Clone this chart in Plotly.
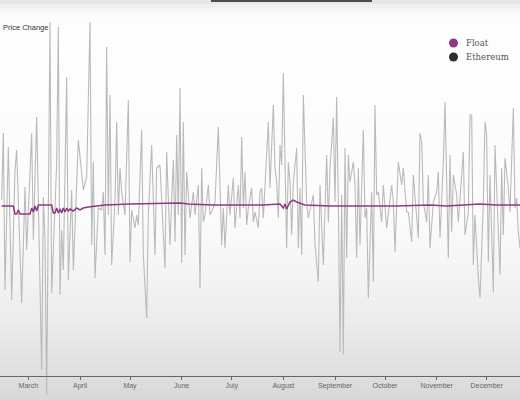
import plotly.graph_objects as go
from datetime import date, timedelta

W, H = 520, 400
YEAR_START = date(2021, 1, 1)

# Ethereum daily price change (day number in 2021, Jan 1 = 0)
eth_day = [43, 44, 45, 47, 49, 51, 52, 54, 55, 57, 58, 61, 62, 64, 66, 67, 68, 69, 70, 72,
           73, 74, 76, 77, 78, 79, 80, 82, 83, 85, 86, 89, 91, 92, 94, 96, 97, 98, 99, 101,
           103, 104, 105, 106, 107, 108, 109, 111, 112, 113, 114, 115, 117, 119, 120, 121, 123, 124, 125, 127,
           128, 130, 131, 133, 135, 136, 138, 141, 142, 144, 145, 146, 147, 148, 149, 150, 151, 152, 153, 154,
           156, 158, 159, 161, 162, 163, 164, 165, 167, 168, 170, 171, 173, 175, 176, 177, 179, 180, 182, 183,
           185, 186, 187, 188, 189, 190, 191, 193, 194, 195, 197, 198, 199, 200, 203, 204, 206, 207, 208, 209,
           210, 211, 212, 214, 215, 216, 217, 218, 220, 221, 222, 223, 224, 226, 227, 230, 231, 233, 234, 235,
           236, 238, 239, 240, 242, 243, 244, 245, 246, 247, 248, 249, 250, 251, 252, 254, 255, 256, 257, 258,
           260, 261, 262, 263, 265, 266, 267, 268, 269, 271, 272, 274, 277, 278, 279, 280, 281, 283, 284, 286,
           287, 289, 290, 293, 294, 295, 296, 298, 299, 300, 301, 302, 304, 305, 306, 308, 309, 311, 312, 313,
           314, 316, 317, 319, 320, 321, 323, 324, 325, 326, 327, 329, 330, 332, 333, 334, 335, 336, 338, 339,
           341, 342, 343, 344, 345, 347, 348, 350, 351, 352, 353, 354]
eth_change = [0.5, 7.2, -8.5, 5.8, -9.5, 3.5, 5.5, -4.5, -9.8, 1.8, -4.5, 7.2, -3.5, 8.8, -8.5, -16.5, 0.8, -3.5, -19.0, 18.3,
              -8.8, -4.5, 4.2, 17.8, -9.0, -2.5, -6.5, 12.8, -7.5, 1.5, -6.5, 6.5, 3.5, 1.5, 2.8, 18.3, -4.0, 4.3, -7.3, -0.3,
              -0.5, 1.3, -5.0, 15.8, -1.0, 11.0, -6.0, 0.5, 8.3, -1.0, 3.7, 1.3, -1.0, 10.5, -5.7, -0.5, -2.3, -1.0, -2.0, 7.5,
              -5.0, -11.3, -1.0, 6.0, -5.0, 3.7, 4.0, -6.3, 5.3, -4.0, 0.5, 4.5, -3.7, 7.0, -1.0, 11.7, -5.8, 8.3, -5.0, 3.3,
              -1.3, 1.3, -1.0, 2.0, -8.3, 3.7, -1.7, -1.0, 2.0, -1.0, -0.3, 0.3, 7.8, -4.0, -0.3, -4.3, 2.0, -1.0, 2.7, -2.3,
              2.0, -1.3, 6.8, -0.3, 3.3, -2.0, -0.3, 1.7, -1.7, -0.7, -2.3, 1.3, 1.7, -1.3, 8.3, 1.7, 10.0, 3.7, 2.3, -1.3,
              6.0, 4.0, 13.2, -4.3, 4.3, 2.3, -3.0, 2.3, 5.7, -4.3, 1.7, -5.0, 11.0, 0.3, -1.3, 1.0, -4.0, -7.7, 2.0, -2.7,
              -6.0, 5.0, -1.7, 3.7, 8.7, 0.3, 10.8, 0.3, -14.7, 1.0, -15.0, 5.7, -5.3, 5.0, 2.3, 4.3, 2.0, -5.3, 3.7, -4.0,
              7.5, -1.3, -0.3, -9.3, 1.3, -7.7, 10.0, 1.0, 1.3, -1.7, 2.0, -2.3, 2.0, 0.3, -4.7, 0.0, 4.3, 2.0, 3.7, -0.7,
              -0.7, -3.7, 3.0, -3.3, 7.2, 6.3, 0.3, -1.7, 3.0, -4.3, -2.3, 0.3, 1.3, 3.3, -3.3, 4.3, 10.3, -5.3, 5.0, -2.7,
              3.0, 1.0, -1.7, 3.0, 5.3, -3.0, -0.7, 9.0, 9.0, -6.0, -1.0, -7.3, -9.3, 0.3, 8.3, 7.0, -5.7, 3.0, -8.7, 6.0,
              -2.7, -7.0, 3.7, -3.0, 4.7, 1.7, -0.7, 9.7, -0.3, 0.7, -2.7, -4.3]

# Float daily price change
float_day = [43, 50, 51, 52, 53, 54, 60, 61, 62, 63, 64, 65, 73, 74, 75, 76, 77, 78, 79, 80,
             81, 82, 83, 84, 86, 88, 90, 92, 95, 105, 120, 140, 150, 155, 170, 200, 210, 212, 213, 214,
             216, 218, 220, 225, 240, 260, 280, 300, 310, 320, 330, 340, 354]
float_change = [-0.1, -0.1, -0.9, -0.9, -0.5, -0.9, -0.9, -0.3, -0.7, -0.1, -0.6, 0.0, 0.0, -0.8, -0.8, -0.3, -0.8, -0.4, -0.8, -0.3,
                -0.7, -0.3, -0.6, -0.4, -0.6, -0.3, -0.5, -0.3, -0.2, 0.0, 0.1, 0.2, 0.2, 0.1, 0.0, 0.0, 0.1, -0.3, 0.1, -0.4,
                0.3, 0.5, 0.3, 0.0, -0.1, -0.1, -0.1, 0.0, -0.1, 0.0, 0.1, 0.0, 0.0]

month_numbers = [3, 4, 5, 6, 7, 8, 9, 10, 11, 12]
month_labels = ["March", "April", "May", "June", "July", "August",
                "September", "October", "November", "December"]
legend_names = ["Float", "Ethereum"]
legend_colors = ["#8d3a83", "#2e2e2e"]
y_title = "Price Change"


def to_dates(days):
    return [YEAR_START + timedelta(days=d) for d in days]


def px_x(p):
    return p / W


def px_y(p):
    return (H - p) / H


fig = go.Figure()
fig.add_trace(go.Scatter(x=to_dates(eth_day), y=eth_change, mode="lines",
                         line=dict(color="#bababa", width=1.1), name="Ethereum",
                         showlegend=False, hoverinfo="skip"))
fig.add_trace(go.Scatter(x=to_dates(float_day), y=float_change, mode="lines",
                         line=dict(color="#8d3a83", width=1.5), name="Float",
                         showlegend=False, hoverinfo="skip"))

# background gradient (screenshot look)
stops = [(0, 226), (6, 240), (14, 251), (24, 253), (210, 252), (260, 246),
         (320, 236), (360, 226), (400, 216)]


def shade(p):
    for (a, ca), (b, cb) in zip(stops[:-1], stops[1:]):
        if a <= p <= b:
            return ca + (cb - ca) * (p - a) / (b - a)
    return stops[-1][1]


shapes = []
step = 4
for p in range(0, H, step):
    c = int(round(shade(p + step / 2)))
    shapes.append(dict(type="rect", xref="paper", yref="paper", x0=0, x1=1,
                       y0=px_y(p + step), y1=px_y(p), fillcolor=f"rgb({c},{c},{c})",
                       line=dict(width=0), layer="below"))
# dark bar at top (video overlay)
shapes.append(dict(type="rect", xref="paper", yref="paper", x0=px_x(211), x1=px_x(372),
                   y0=px_y(2), y1=1, fillcolor="#4d4d4d", line=dict(width=0)))

annotations = []
for i, (name, col) in enumerate(zip(legend_names, legend_colors)):
    cy = 43 + 14 * i
    shapes.append(dict(type="circle", xref="paper", yref="paper",
                       x0=px_x(449), x1=px_x(458), y0=px_y(cy + 4.5), y1=px_y(cy - 4.5),
                       fillcolor=col, line=dict(width=0)))
    annotations.append(dict(text=name, xref="paper", yref="paper", x=px_x(464), y=px_y(cy),
                            xanchor="left", yanchor="middle", showarrow=False,
                            font=dict(family="DejaVu Serif", size=8.5, color="#555555")))

annotations.append(dict(text=y_title, xref="paper", yref="paper", x=px_x(1), y=px_y(27),
                        xanchor="left", yanchor="middle", showarrow=False,
                        font=dict(family="Liberation Sans", size=7.5, color="#333333")))

x_start = YEAR_START + timedelta(days=42.82)
x_end = YEAR_START + timedelta(days=42.82 + 0.5992 * W)

fig.update_layout(
    width=W, height=H,
    margin=dict(l=0, r=0, t=0, b=0),
    paper_bgcolor="white", plot_bgcolor="white",
    shapes=shapes, annotations=annotations,
    showlegend=False, hovermode=False,
    xaxis=dict(range=[x_start, x_end], anchor="free", position=px_y(376),
               showline=True, linecolor="#666666", linewidth=1,
               ticks="outside", ticklen=3, tickcolor="#666666",
               tickvals=[date(2021, m, 1) for m in month_numbers], ticktext=month_labels,
               tickfont=dict(family="Liberation Sans", size=7, color="#666666"),
               showgrid=False, zeroline=False, fixedrange=True),
    yaxis=dict(range=[-19.5, 20.5], visible=False, showgrid=False, zeroline=False,
               fixedrange=True),
)

fig.write_html("out.html", config={"displayModeBar": False},
               post_script="document.body.style.margin='0';document.body.style.overflow='hidden';")
